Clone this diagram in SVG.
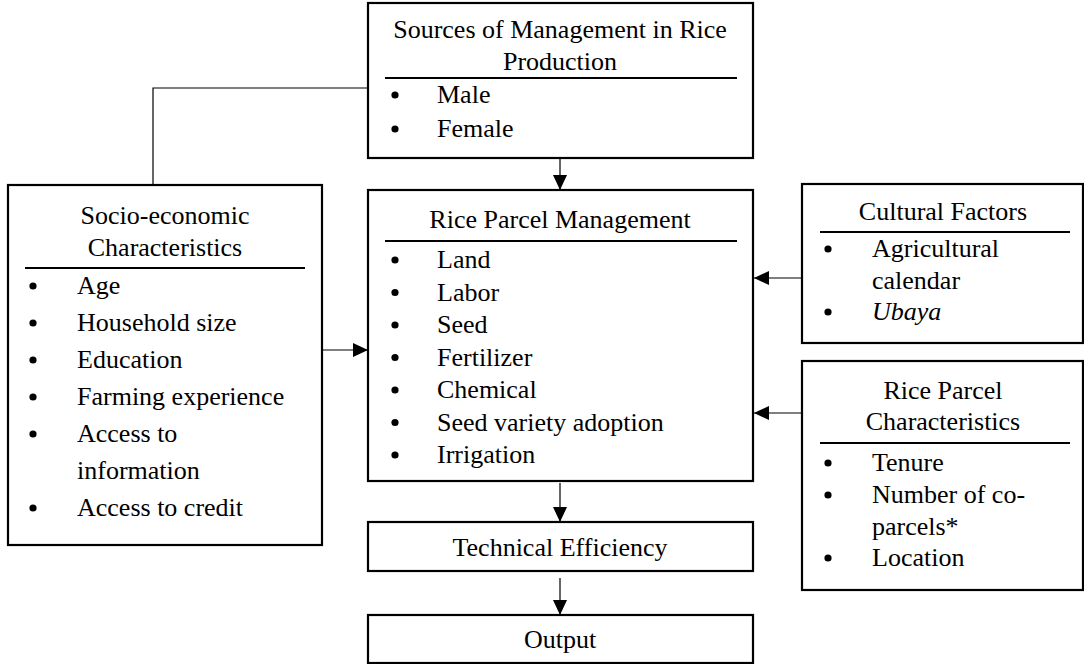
<svg xmlns="http://www.w3.org/2000/svg" width="1084" height="664" viewBox="0 0 1084 664">
<style>
.box{fill:#fff;stroke:#000;stroke-width:2.2}
.ul{stroke:#000;stroke-width:2}
.t{font-family:"Liberation Serif","Times New Roman",serif;font-size:26px;fill:#000}
.c{text-anchor:middle}
.con{stroke:#000;stroke-width:1.2;fill:none}
</style>
<defs>
<marker id="ah" markerWidth="15" markerHeight="14" refX="15" refY="7" orient="auto" markerUnits="userSpaceOnUse">
<path d="M0,0 L15,7 L0,14 Z" fill="#000"/>
</marker>
</defs>
<rect width="1084" height="664" fill="#fff"/>
<g id="connectors">
<polyline class="con" points="368,88 153,88 153,185"/>
<line class="con" x1="560" y1="158" x2="560" y2="190" marker-end="url(#ah)"/>
<line class="con" x1="322" y1="350" x2="368" y2="350" marker-end="url(#ah)"/>
<line class="con" x1="802" y1="278" x2="754" y2="278" marker-end="url(#ah)"/>
<line class="con" x1="802" y1="413" x2="754" y2="413" marker-end="url(#ah)"/>
<line class="con" x1="560" y1="483" x2="560" y2="522" marker-end="url(#ah)"/>
<line class="con" x1="560" y1="578" x2="560" y2="615" marker-end="url(#ah)"/>
</g>
<g id="sources">
<rect class="box" x="368" y="3" width="385" height="155"/>
<text class="t c" x="560" y="38">Sources of Management in Rice</text>
<text class="t c" x="560" y="70">Production</text>
<line class="ul" x1="385" y1="78" x2="737" y2="78"/>
<circle cx="395" cy="95" r="3.6"/><text class="t" x="437" y="103">Male</text>
<circle cx="395" cy="129" r="3.6"/><text class="t" x="437" y="137">Female</text>
</g>
<g id="socio">
<rect class="box" x="8" y="185" width="314" height="360"/>
<text class="t c" x="165" y="224">Socio-economic</text>
<text class="t c" x="165" y="256">Characteristics</text>
<line class="ul" x1="25" y1="268" x2="305" y2="268"/>
<circle cx="33" cy="286" r="3.6"/><text class="t" x="77" y="294">Age</text>
<circle cx="33" cy="323" r="3.6"/><text class="t" x="77" y="331">Household size</text>
<circle cx="33" cy="360" r="3.6"/><text class="t" x="77" y="368">Education</text>
<circle cx="33" cy="397" r="3.6"/><text class="t" x="77" y="405">Farming experience</text>
<circle cx="33" cy="434" r="3.6"/><text class="t" x="77" y="442">Access to</text>
<text class="t" x="77" y="479">information</text>
<circle cx="33" cy="508" r="3.6"/><text class="t" x="77" y="516">Access to credit</text>
</g>
<g id="management">
<rect class="box" x="368" y="190" width="385" height="291"/>
<text class="t c" x="560" y="228">Rice Parcel Management</text>
<line class="ul" x1="385" y1="241" x2="737" y2="241"/>
<circle cx="395" cy="260" r="3.6"/><text class="t" x="437" y="268">Land</text>
<circle cx="395" cy="292.5" r="3.6"/><text class="t" x="437" y="300.5">Labor</text>
<circle cx="395" cy="325" r="3.6"/><text class="t" x="437" y="333">Seed</text>
<circle cx="395" cy="357.5" r="3.6"/><text class="t" x="437" y="365.5">Fertilizer</text>
<circle cx="395" cy="390" r="3.6"/><text class="t" x="437" y="398">Chemical</text>
<circle cx="395" cy="422.5" r="3.6"/><text class="t" x="437" y="430.5">Seed variety adoption</text>
<circle cx="395" cy="455" r="3.6"/><text class="t" x="437" y="463">Irrigation</text>
</g>
<g id="cultural">
<rect class="box" x="802" y="184" width="281" height="159"/>
<text class="t c" x="943" y="220">Cultural Factors</text>
<line class="ul" x1="820" y1="232" x2="1070" y2="232"/>
<circle cx="828" cy="249" r="3.6"/><text class="t" x="872" y="257">Agricultural</text>
<text class="t" x="872" y="289">calendar</text>
<circle cx="828" cy="312" r="3.6"/><text class="t" x="872" y="320" font-style="italic">Ubaya</text>
</g>
<g id="parcel">
<rect class="box" x="802" y="361" width="281" height="229"/>
<text class="t c" x="943" y="399">Rice Parcel</text>
<text class="t c" x="943" y="430">Characteristics</text>
<line class="ul" x1="820" y1="443" x2="1070" y2="443"/>
<circle cx="828" cy="463" r="3.6"/><text class="t" x="872" y="471">Tenure</text>
<circle cx="828" cy="495" r="3.6"/><text class="t" x="872" y="503">Number of co-</text>
<text class="t" x="872" y="535">parcels*</text>
<circle cx="828" cy="558" r="3.6"/><text class="t" x="872" y="566">Location</text>
</g>
<g id="technical">
<rect class="box" x="368" y="522" width="385" height="49"/>
<text class="t c" x="560" y="556">Technical Efficiency</text>
</g>
<g id="output">
<rect class="box" x="368" y="615" width="385" height="48"/>
<text class="t c" x="560" y="648">Output</text>
</g>
</svg>
